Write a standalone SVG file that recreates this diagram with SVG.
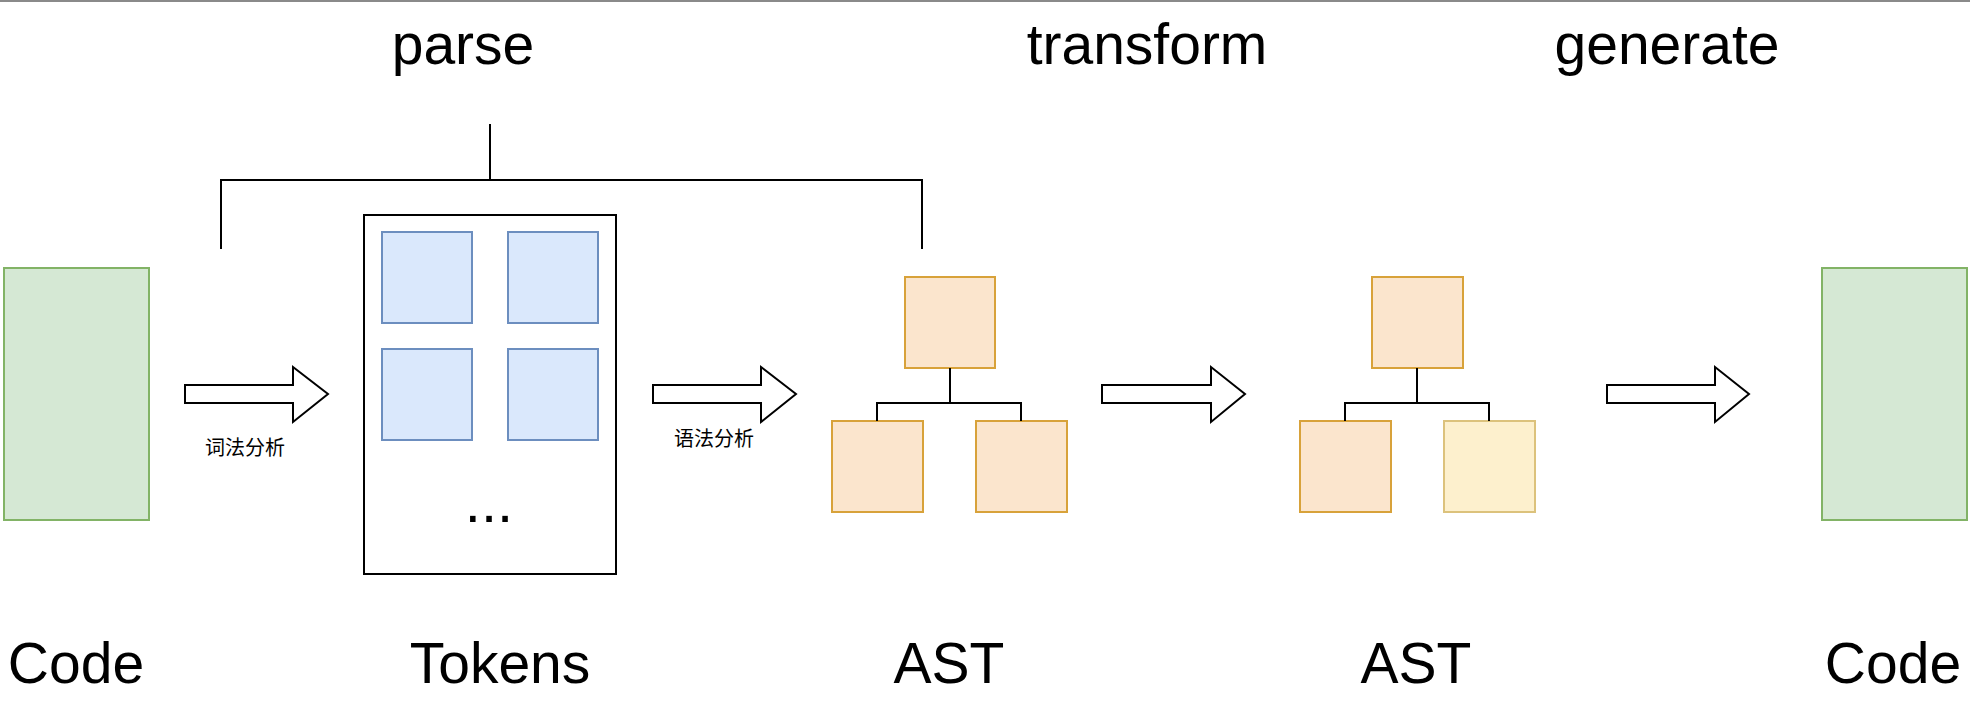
<svg xmlns="http://www.w3.org/2000/svg" width="1970" height="706" viewBox="0 0 1970 706">
<style>
.big{font-family:"Liberation Sans",Arial,Helvetica,sans-serif;font-size:57px;fill:#000;text-anchor:middle}
.small{font-family:"Liberation Sans","Noto Sans CJK SC",sans-serif;font-size:20px;fill:#000;text-anchor:middle}
.code{fill:#d5e8d4;stroke:#82b366;stroke-width:2}
.tok{fill:#dae8fc;stroke:#6c8ebf;stroke-width:2}
.ast{fill:#fbe5cd;stroke:#d8a23a;stroke-width:2}
.ast2{fill:#fdf0cd;stroke:#dcc27c;stroke-width:2}
.arrow{fill:#fff;stroke:#000;stroke-width:2;stroke-linejoin:miter}
.line{fill:none;stroke:#000;stroke-width:2}
</style>
<rect x="0" y="0" width="1970" height="706" fill="#fff"/>
<rect x="0" y="0" width="1970" height="2" fill="#8a8a8a"/>

<g id="stage-labels">
<text class="big" x="463" y="64">parse</text>
<text class="big" x="1147" y="64">transform</text>
<text class="big" x="1667" y="64">generate</text>
</g>

<g id="code-in">
<rect class="code" x="4" y="268" width="145" height="252"/>
<text class="big" x="76" y="683">Code</text>
</g>

<g id="tokens">
<rect x="364" y="215" width="252" height="359" fill="#fff" stroke="#000" stroke-width="2"/>
<rect class="tok" x="382" y="232" width="90" height="91"/>
<rect class="tok" x="508" y="232" width="90" height="91"/>
<rect class="tok" x="382" y="349" width="90" height="91"/>
<rect class="tok" x="508" y="349" width="90" height="91"/>
<text x="489" y="522" font-family="Liberation Sans,Arial,sans-serif" font-size="58" text-anchor="middle">...</text>
<text class="big" x="500" y="683">Tokens</text>
</g>

<g id="ast1">
<rect class="ast" x="905" y="277" width="90" height="91"/>
<rect class="ast" x="832" y="421" width="91" height="91"/>
<rect class="ast" x="976" y="421" width="91" height="91"/>
<text class="big" x="949" y="683">AST</text>
</g>

<g id="ast2">
<rect class="ast" x="1372" y="277" width="91" height="91"/>
<rect class="ast" x="1300" y="421" width="91" height="91"/>
<rect class="ast2" x="1444" y="421" width="91" height="91"/>
<text class="big" x="1416" y="683">AST</text>
</g>

<g id="code-out">
<rect class="code" x="1822" y="268" width="145" height="252"/>
<text class="big" x="1893" y="683">Code</text>
</g>

<g id="connectors">
<path class="line" d="M490 124V180M221 249V180H922V249"/>
<path class="line" d="M950 368V403M877 421V403H1021V421"/>
<path class="line" d="M1417 368V403M1345 421V403H1489V421"/>
<path class="arrow" d="M185 385H293V367L328 394L293 422V403H185Z"/>
<path class="arrow" d="M653 385H761V367L796 394L761 422V403H653Z"/>
<path class="arrow" d="M1102 385H1211V367L1245 394L1211 422V403H1102Z"/>
<path class="arrow" d="M1607 385H1715V367L1749 394L1715 422V403H1607Z"/>
<text class="small" x="245" y="455">词法分析</text>
<text class="small" x="714" y="446">语法分析</text>
</g>
</svg>
